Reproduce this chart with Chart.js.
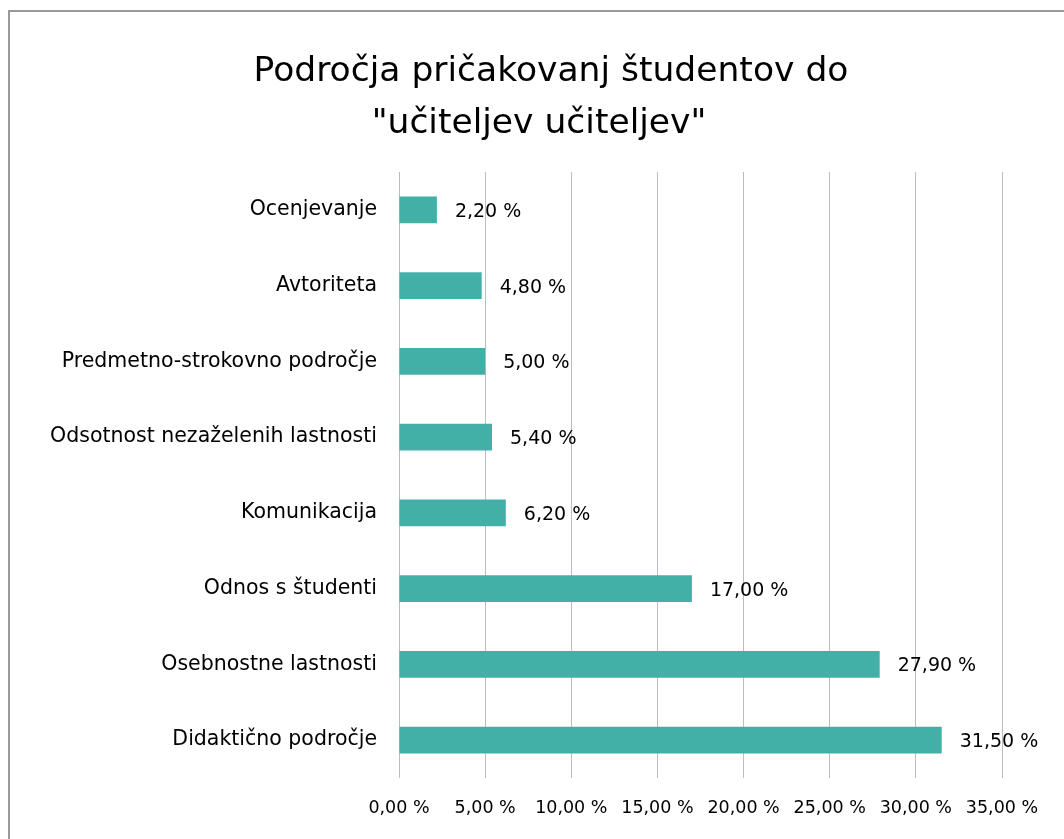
<!DOCTYPE html>
<html>
<head>
<meta charset="utf-8">
<script src="https://cdn.jsdelivr.net/npm/chart.js@4/dist/chart.umd.min.js"></script>
<style>
  html, body { margin: 0; padding: 0; background: #ffffff; }
  #c { display: block; }
</style>
</head>
<body>
<canvas id="c" width="1064" height="839"></canvas>
<script>
const titleLines = ['Področja pričakovanj študentov do', '"učiteljev učiteljev"'];
const categories = [
  'Ocenjevanje',
  'Avtoriteta',
  'Predmetno-strokovno področje',
  'Odsotnost nezaželenih lastnosti',
  'Komunikacija',
  'Odnos s študenti',
  'Osebnostne lastnosti',
  'Didaktično področje'
];
const values = [2.2, 4.8, 5.0, 5.4, 6.2, 17.0, 27.9, 31.5];
const axisMin = 0;
const axisMax = 35;
const axisStep = 5;

const FONT = '"DejaVu Sans", "Noto Sans", sans-serif';
const fmt = v => v.toFixed(2).replace('.', ',') + ' %';

const framePlugin = {
  id: 'frame',
  beforeDraw(chart) {
    const ctx = chart.ctx;
    ctx.save();
    ctx.fillStyle = '#ffffff';
    ctx.fillRect(0, 0, chart.width, chart.height);
    ctx.strokeStyle = '#999999';
    ctx.lineWidth = 2;
    ctx.beginPath();
    ctx.moveTo(9, chart.height);
    ctx.lineTo(9, 11);
    ctx.lineTo(chart.width, 11);
    ctx.stroke();
    ctx.restore();
  }
};

const titlePlugin = {
  id: 'twoLineTitle',
  afterDraw(chart) {
    const ctx = chart.ctx;
    ctx.save();
    ctx.fillStyle = '#000000';
    ctx.font = '34.5px ' + FONT;
    ctx.textAlign = 'center';
    ctx.textBaseline = 'middle';
    ctx.fillText(titleLines[0], 551, 72);
    ctx.fillText(titleLines[1], 539, 124);
    ctx.restore();
  }
};

const valueLabels = {
  id: 'valueLabels',
  afterDatasetsDraw(chart) {
    const ctx = chart.ctx;
    const meta = chart.getDatasetMeta(0);
    ctx.save();
    ctx.fillStyle = '#000000';
    ctx.font = '19px ' + FONT;
    ctx.textAlign = 'left';
    ctx.textBaseline = 'middle';
    meta.data.forEach((bar, i) => {
      ctx.fillText(fmt(chart.data.datasets[0].data[i]), bar.x + 18, bar.y + 2);
    });
    ctx.restore();
  }
};

new Chart(document.getElementById('c'), {
  type: 'bar',
  data: {
    labels: categories,
    datasets: [{
      data: values,
      backgroundColor: '#43B0A7',
      borderWidth: 0,
      barPercentage: 0.355,
      categoryPercentage: 1.0
    }]
  },
  options: {
    indexAxis: 'y',
    responsive: false,
    animation: false,
    layout: { padding: { top: 172, right: 62, bottom: 0, left: 0 } },
    plugins: {
      legend: { display: false },
      title: { display: false },
      tooltip: { enabled: false }
    },
    scales: {
      x: {
        min: axisMin,
        max: axisMax,
        border: { display: false },
        grid: { color: '#bdbdbd', lineWidth: 1, drawTicks: false },
        ticks: {
          stepSize: axisStep,
          padding: 20,
          color: '#000000',
          font: { family: FONT, size: 17.5 },
          callback: v => fmt(v)
        },
        afterFit(scale) { scale.height = 61; }
      },
      y: {
        border: { display: false },
        grid: { display: false, drawTicks: false },
        ticks: {
          padding: 22,
          color: '#000000',
          font: { family: FONT, size: 20.5 }
        },
        afterFit(scale) { scale.width = 399; }
      }
    }
  },
  plugins: [framePlugin, titlePlugin, valueLabels]
});
</script>
</body>
</html>
